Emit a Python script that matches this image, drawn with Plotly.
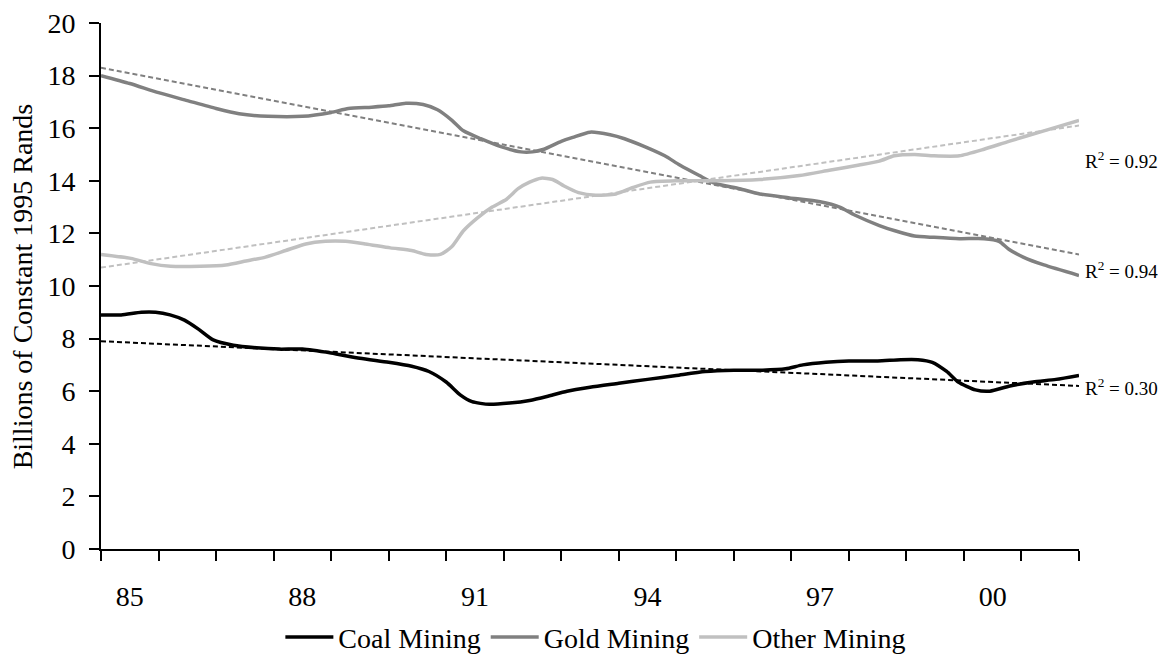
import plotly.graph_objects as go

# ---- data (years as decimal, 85 = 1985) ----
coal_x = [85.0, 85.35, 85.7, 85.95, 86.2, 86.45, 86.7, 86.95, 87.3, 87.7, 88.1, 88.5, 89.0, 89.5, 90.0,
          90.4, 90.7, 91.0, 91.25, 91.45, 91.75, 92.1, 92.45, 92.75, 93.1, 93.5, 94.0, 94.5, 95.0, 95.5,
          96.0, 96.5, 96.9, 97.2, 97.6, 98.0, 98.5, 98.9, 99.2, 99.45, 99.7, 99.9, 100.2, 100.45, 100.8,
          101.2, 101.6, 102.0]
coal_y = [8.9, 8.9, 9.0, 9.0, 8.9, 8.7, 8.35, 7.95, 7.75, 7.65, 7.6, 7.6, 7.45, 7.25, 7.1,
          6.95, 6.75, 6.35, 5.85, 5.6, 5.5, 5.55, 5.65, 5.8, 6.0, 6.15, 6.3, 6.45, 6.6, 6.75,
          6.8, 6.8, 6.85, 7.0, 7.1, 7.15, 7.15, 7.2, 7.2, 7.1, 6.75, 6.35, 6.05, 6.0, 6.2,
          6.35, 6.45, 6.6]

gold_x = [85.0, 85.5, 86.0, 86.5, 87.0, 87.4, 87.9, 88.5, 89.0, 89.3, 89.7, 90.0, 90.3, 90.6, 90.85,
          91.1, 91.3, 91.6, 91.95, 92.3, 92.5, 92.7, 93.0, 93.2, 93.5, 93.85, 94.1, 94.45, 94.8, 95.06,
          95.4, 95.67, 96.1, 96.45, 96.97, 97.5, 97.84, 98.1, 98.53, 98.8, 99.14, 99.48, 99.92, 100.35,
          100.61, 100.78, 101.03, 101.39, 102.0]
gold_y = [18.0, 17.7, 17.35, 17.05, 16.75, 16.55, 16.45, 16.45, 16.6, 16.75, 16.8, 16.85, 16.95, 16.9, 16.7,
          16.3, 15.9, 15.6, 15.3, 15.1, 15.1, 15.2, 15.5, 15.65, 15.85, 15.75, 15.6, 15.3, 14.95, 14.6,
          14.2, 13.9, 13.7, 13.5, 13.35, 13.2, 13.0, 12.7, 12.3, 12.1, 11.9, 11.85, 11.8, 11.8,
          11.7, 11.4, 11.1, 10.8, 10.4]

other_x = [85.0, 85.52, 85.87, 86.21, 86.73, 87.17, 87.52, 87.86, 88.21, 88.56, 88.9, 89.25, 89.6, 90.03,
           90.4, 90.65, 90.9, 91.1, 91.3, 91.55, 91.8, 92.05, 92.25, 92.45, 92.65, 92.85, 93.05,
           93.3, 93.6, 93.95, 94.25, 94.55, 95.0, 95.75, 96.45, 97.14, 97.66, 98.18, 98.53,
           98.79, 99.14, 99.48, 99.92, 100.35, 100.78, 101.39, 102.0]
other_y = [11.2, 11.05, 10.85, 10.75, 10.75, 10.8, 10.95, 11.1, 11.35, 11.6, 11.7, 11.7, 11.6, 11.45,
           11.35, 11.2, 11.2, 11.5, 12.1, 12.6, 13.0, 13.3, 13.7, 13.95, 14.1, 14.05, 13.8,
           13.55, 13.45, 13.5, 13.75, 13.95, 14.0, 14.0, 14.05, 14.2, 14.4, 14.6, 14.75,
           14.95, 15.0, 14.95, 14.95, 15.2, 15.5, 15.9, 16.3]

# trend lines (start / end values)
trend_x = [85.0, 102.0]
coal_trend = [7.9, 6.2]
gold_trend = [18.3, 11.2]
other_trend = [10.7, 16.1]

r2_labels = ["R<sup>2</sup> = 0.92", "R<sup>2</sup> = 0.94", "R<sup>2</sup> = 0.30"]
r2_yvals = [14.8, 10.6, 6.15]

series_names = ["Coal Mining", "Gold Mining", "Other Mining"]
year_ticks = [85.5, 88.5, 91.5, 94.5, 97.5, 100.5]
year_labels = ["85", "88", "91", "94", "97", "00"]
minor_ticks = list(range(85, 103))

FONT = "Liberation Serif, Times New Roman, serif"
FS = 28

fig = go.Figure()
fig.add_trace(go.Scatter(x=trend_x, y=gold_trend, mode="lines", showlegend=False,
                         line=dict(color="#808080", width=2, dash="5px,3px"), hoverinfo="skip"))
fig.add_trace(go.Scatter(x=trend_x, y=other_trend, mode="lines", showlegend=False,
                         line=dict(color="#c0c0c0", width=2, dash="5px,3px"), hoverinfo="skip"))
fig.add_trace(go.Scatter(x=trend_x, y=coal_trend, mode="lines", showlegend=False,
                         line=dict(color="#000000", width=2, dash="5px,3px"), hoverinfo="skip"))

fig.add_trace(go.Scatter(x=coal_x, y=coal_y, mode="lines", name=series_names[0],
                         line=dict(color="#000000", width=3.5, shape="spline", smoothing=0.6)))
fig.add_trace(go.Scatter(x=gold_x, y=gold_y, mode="lines", name=series_names[1],
                         line=dict(color="#808080", width=3.5, shape="spline", smoothing=0.6)))
fig.add_trace(go.Scatter(x=other_x, y=other_y, mode="lines", name=series_names[2],
                         line=dict(color="#c0c0c0", width=3.5, shape="spline", smoothing=0.6)))

for txt, yv in zip(r2_labels, r2_yvals):
    fig.add_annotation(x=1.005, xref="paper", y=yv, yref="y", text=txt, showarrow=False,
                       xanchor="left", yanchor="middle", borderpad=0,
                       font=dict(family=FONT, size=19, color="black"))

fig.add_annotation(x=-0.0804, xref="paper", y=0.5, yref="paper", text="Billions of Constant 1995 Rands",
                   textangle=-90, showarrow=False, xanchor="center", yanchor="middle",
                   font=dict(family=FONT, size=FS, color="black"))

fig.update_layout(
    width=1158, height=657,
    margin=dict(l=101, r=79, t=23, b=108, autoexpand=False),
    paper_bgcolor="white", plot_bgcolor="white",
    font=dict(family=FONT, size=FS, color="black"),
    showlegend=True,
    legend=dict(orientation="h", x=0.506, xanchor="center", y=-0.168, yanchor="middle",
                font=dict(family=FONT, size=28), itemwidth=48, tracegroupgap=0,
                bgcolor="rgba(0,0,0,0)"),
    xaxis=dict(range=[85, 102], showline=True, linecolor="black", linewidth=2,
               tickmode="array", tickvals=year_ticks, ticktext=year_labels,
               ticks="outside", ticklen=21, tickcolor="rgba(0,0,0,0)",
               minor=dict(tickmode="array", tickvals=minor_ticks, ticks="outside",
                          ticklen=10, tickwidth=2, tickcolor="black"),
               showgrid=False, zeroline=False, fixedrange=True),
    yaxis=dict(range=[0, 20], tickmode="linear", tick0=0, dtick=2, showline=True,
               linecolor="black", linewidth=2, ticks="outside", ticklen=10, tickwidth=2,
               tickcolor="black", showgrid=False, zeroline=False, ticklabelstandoff=8,
               fixedrange=True),
)

fig.write_html("out.html", config={"displayModeBar": False, "staticPlot": True},
               post_script="document.body.style.margin='0';document.body.style.overflow='hidden';")
